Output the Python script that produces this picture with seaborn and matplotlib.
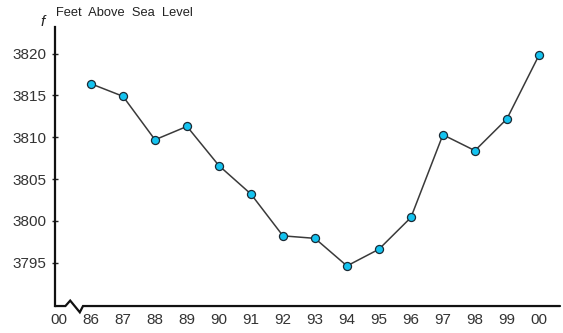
import numpy as np
import matplotlib
matplotlib.use('Agg')
import matplotlib.pyplot as plt
import seaborn as sns
import pandas as pd

# data

years = ['86', '87', '88', '89', '90', '91', '92', '93', '94', '95', '96', '97', '98', '99', '00']
feet = [3816.4, 3814.9, 3809.7, 3811.3, 3806.6, 3803.2, 3798.2, 3797.9, 3794.6, 3796.6,
        3800.4, 3810.3, 3808.4, 3812.2, 3819.8]
tick_labels = ['00'] + years
y_ticks = [3795, 3800, 3805, 3810, 3815, 3820]

sns.set_style('white')
plt.rcParams['font.family'] = ['Liberation Sans', 'DejaVu Sans']

df = pd.DataFrame({'pos': np.arange(1, len(years) + 1), 'feet': feet})

fig = plt.figure(figsize=(5.63, 3.33), dpi=100)
ax = fig.add_axes([0.0977, 0.081, 0.897, 0.838])

sns.lineplot(data=df, x='pos', y='feet', ax=ax, color='#3a3a3a', linewidth=1.1,
             marker='o', markersize=5.8, markerfacecolor='#14C3F0',
             markeredgecolor='#1a2a35', markeredgewidth=0.9)

ax.set_xlim(-0.125, 15.66)
ax.set_ylim(3789.8, 3823.2)
ax.set_xticks(np.arange(len(tick_labels)))
ax.set_xticklabels(tick_labels)
ax.set_yticks(y_ticks)
ax.set_xlabel('')
ax.set_ylabel('')

ax.tick_params(axis='x', length=0, pad=5, labelsize=11, labelcolor='#333333')
ax.tick_params(axis='y', direction='inout', length=4, width=1, color='#222222',
               pad=4, labelsize=11, labelcolor='#333333', left=True)

for s in ['top', 'right', 'bottom']:
    ax.spines[s].set_visible(False)
ax.spines['left'].set_linewidth(1.6)
ax.spines['left'].set_color('#111111')

# bottom axis with a break mark near the origin
y0 = 3789.8
bx = [-0.125, 0.2, 0.35, 0.65, 0.75, 15.66]
by = [y0, y0, y0 + 0.65, y0 - 0.75, y0, y0]
ax.plot(bx, by, color='#111111', linewidth=1.6, clip_on=False, solid_joinstyle='miter')

fig.text(0.072, 0.922, 'f', fontsize=11, style='italic', color='#222222')
fig.text(0.099, 0.952, 'Feet  Above  Sea  Level', fontsize=9.3, color='#222222')

plt.savefig('out.png', dpi=100)
